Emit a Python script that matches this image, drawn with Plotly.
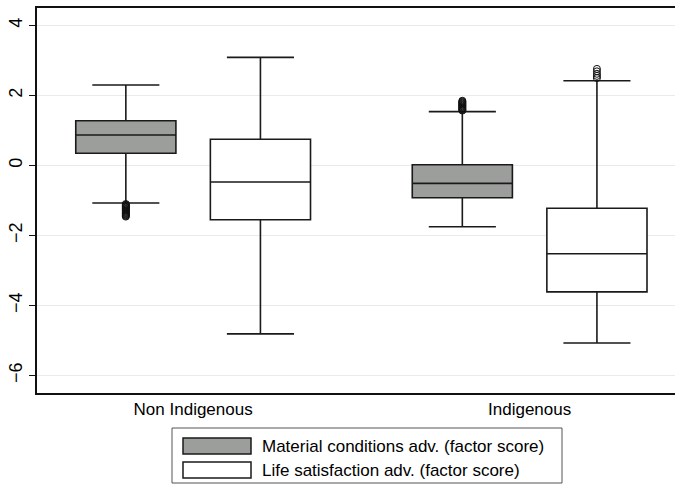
import plotly.graph_objects as go

# ---------------- data ----------------
categories = ["Non Indigenous", "Indigenous"]
series_names = ["Material conditions adv. (factor score)",
                "Life satisfaction adv. (factor score)"]

material_lower = [-1.07, -1.75]
material_q1 = [0.35, -0.92]
material_median = [0.87, -0.51]
material_q3 = [1.28, 0.02]
material_upper = [2.30, 1.54]
material_outliers = [
    [-1.10, -1.12, -1.14, -1.16, -1.18, -1.20, -1.22, -1.24, -1.26, -1.28,
     -1.30, -1.32, -1.34, -1.36, -1.38, -1.40, -1.42, -1.44, -1.46],
    [1.57, 1.59, 1.61, 1.63, 1.65, 1.67, 1.69, 1.71, 1.73, 1.75,
     1.77, 1.79, 1.81, 1.83, 1.85],
]

life_lower = [-4.81, -5.07]
life_q1 = [-1.55, -3.61]
life_median = [-0.47, -2.52]
life_q3 = [0.75, -1.22]
life_upper = [3.09, 2.42]
life_outliers = [
    [None],  # no outliers for this group
    [2.50, 2.56, 2.62, 2.69, 2.76],
]

y_ticks = [-6, -4, -2, 0, 2, 4]

# ---------------- styles ----------------
FONT = "Liberation Sans, Arial, sans-serif"
fills = ["#9c9e9c", "#ffffff"]
W, H = 675, 485
ML, MR, MT, MB = 37, 0, 8, 92

fig = go.Figure()
stats = [
    (material_lower, material_q1, material_median, material_q3, material_upper, material_outliers),
    (life_lower, life_q1, life_median, life_q3, life_upper, life_outliers),
]
for name, fill, (lf, q1, med, q3, uf, outl) in zip(series_names, fills, stats):
    fig.add_trace(go.Box(
        name=name,
        x=categories,
        y=outl,
        lowerfence=lf, q1=q1, median=med, q3=q3, upperfence=uf,
        boxpoints="outliers",
        jitter=0, pointpos=0,
        whiskerwidth=0.67,
        fillcolor=fill,
        line=dict(color="#1a1a1a", width=1.6),
        marker=dict(symbol="circle-open", size=7, color="#111111",
                    line=dict(width=1, color="#111111")),
        showlegend=False,
        hoverinfo="skip",
    ))

# ---------------- manual Stata-like legend ----------------
pw = W - ML - MR
ph = H - MT - MB


def px_x(x):
    return (x - ML) / pw


def px_y(y):
    return (H - MB - y) / ph


shapes = [dict(type="rect", xref="paper", yref="paper",
               x0=px_x(172), x1=px_x(562), y0=px_y(428), y1=px_y(483),
               line=dict(color="#555555", width=1), fillcolor="white", layer="above")]
annotations = []
row_centers = [446, 470]
for name, fill, yc in zip(series_names, fills, row_centers):
    shapes.append(dict(type="rect", xref="paper", yref="paper",
                       x0=px_x(183), x1=px_x(251), y0=px_y(yc - 8), y1=px_y(yc + 8),
                       line=dict(color="#1a1a1a", width=1.5), fillcolor=fill, layer="above"))
    annotations.append(dict(xref="paper", yref="paper", x=px_x(260), y=px_y(yc),
                            xanchor="left", yanchor="middle", showarrow=False,
                            text=name, font=dict(family=FONT, size=17, color="black")))

fig.update_layout(
    width=W, height=H,
    margin=dict(l=ML, r=MR, t=MT, b=MB, pad=0),
    paper_bgcolor="white", plot_bgcolor="white",
    boxmode="group", boxgap=0.2, boxgroupgap=0.256,
    font=dict(family=FONT, size=17, color="black"),
    shapes=shapes, annotations=annotations,
    showlegend=False,
)
fig.update_xaxes(
    type="category", range=[-0.464, 1.432],
    showline=True, mirror=True, linecolor="#111111", linewidth=2,
    ticks="", showgrid=False, zeroline=False,
    tickfont=dict(family=FONT, size=17, color="black"),
    ticklabelstandoff=0,
)
fig.update_yaxes(
    range=[-6.5, 4.5], tickvals=y_ticks,
    showline=True, mirror=False, linecolor="#111111", linewidth=2,
    ticks="outside", ticklen=6, tickwidth=1, tickcolor="#111111",
    showgrid=True, gridcolor="#eaeaea", gridwidth=1, zeroline=False,
    tickangle=-90,
    tickfont=dict(family=FONT, size=18, color="black"),
)

fig.write_html("out.html",
               config={"displayModeBar": False},
               post_script="document.body.style.margin='0px';document.body.style.overflow='hidden';")
